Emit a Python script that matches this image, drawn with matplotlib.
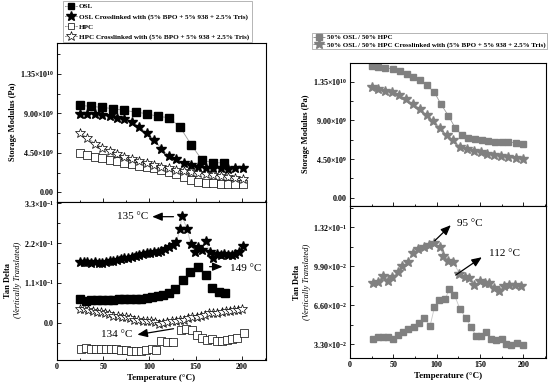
import matplotlib
matplotlib.use('Agg')
import matplotlib.pyplot as plt
from matplotlib.lines import Line2D

plt.rcParams['font.family'] = ['Liberation Serif', 'DejaVu Serif']
plt.rcParams['mathtext.fontset'] = 'custom'
plt.rcParams['mathtext.rm'] = 'Liberation Serif:bold'
plt.rcParams['mathtext.it'] = 'Liberation Serif:bold:italic'
plt.rcParams['mathtext.bf'] = 'Liberation Serif:bold'

# ---------------- data: left storage modulus ----------------
osl_T = [25, 37, 49, 61, 73, 85, 97, 109, 121, 133, 145, 157, 169, 181]
osl_E = [9.90e9, 9.78e9, 9.67e9, 9.52e9, 9.33e9, 9.14e9, 8.95e9, 8.65e9, 8.50e9,
         7.44e9, 5.44e9, 3.66e9, 3.36e9, 3.36e9]
oslx_T = [25, 33, 41, 49, 57, 65, 73, 81, 89, 97, 105, 113, 121, 129, 137, 145,
          153, 161, 169, 177, 185, 193, 201]
oslx_E = [8.95e9, 8.95e9, 8.91e9, 8.79e9, 8.65e9, 8.50e9, 8.35e9, 8.05e9, 7.44e9,
          6.76e9, 6.00e9, 4.94e9, 4.12e9, 3.81e9, 3.29e9, 3.06e9, 2.91e9, 2.79e9,
          2.72e9, 2.72e9, 2.68e9, 2.79e9, 2.79e9]
hpc_T = [25, 33, 41, 49, 57, 65, 73, 81, 89, 97, 105, 113, 121, 129, 137, 145,
         153, 161, 169, 177, 185, 193, 201]
hpc_E = [4.49e9, 4.23e9, 4.04e9, 3.85e9, 3.66e9, 3.51e9, 3.36e9, 3.21e9, 3.02e9,
         2.87e9, 2.72e9, 2.53e9, 2.30e9, 2.04e9, 1.70e9, 1.40e9, 1.21e9, 1.09e9,
         1.02e9, 1.00e9, 0.98e9, 0.97e9, 0.96e9]
hpcx_T = [25, 33, 41, 49, 57, 65, 73, 81, 89, 97, 105, 113, 121, 129, 137, 145,
          153, 161, 169, 177, 185, 193, 201]
hpcx_E = [6.76e9, 6.19e9, 5.55e9, 5.10e9, 4.68e9, 4.34e9, 4.04e9, 3.78e9, 3.55e9,
          3.29e9, 3.06e9, 2.91e9, 2.72e9, 2.53e9, 2.42e9, 2.27e9, 2.15e9, 2.04e9,
          1.93e9, 1.85e9, 1.77e9, 1.66e9, 1.55e9]

# ---------------- data: left tan delta (vertically translated) ----------------
tdx_T = [25, 29, 33, 37, 41, 45, 49, 53, 57, 61, 65, 69, 73, 77, 81, 85, 89, 93, 97,
         101, 105, 109, 113, 117, 121, 125, 129, 133, 135, 141, 144.5, 149, 152,
         156.5, 161, 165, 169, 173, 177, 181, 185, 189, 193, 197, 201]
tdx_v = [0.168, 0.167, 0.167, 0.166, 0.167, 0.166, 0.166, 0.167, 0.170, 0.172,
         0.174, 0.176, 0.178, 0.180, 0.183, 0.185, 0.187, 0.189, 0.192, 0.194,
         0.195, 0.196, 0.198, 0.203, 0.210, 0.214, 0.222, 0.258, 0.294, 0.258,
         0.218, 0.195, 0.209, 0.202, 0.227, 0.195, 0.179, 0.191, 0.188, 0.189,
         0.188, 0.188, 0.189, 0.195, 0.212]
tdo_T = [25, 31, 37, 43, 49, 55, 61, 67, 73, 79, 85, 91, 97, 103, 109, 115, 121,
         128, 136, 144, 152, 161, 168, 175, 182]
tdo_v = [0.067, 0.060, 0.064, 0.063, 0.063, 0.064, 0.064, 0.065, 0.065, 0.065,
         0.066, 0.066, 0.068, 0.070, 0.073, 0.077, 0.083, 0.092, 0.117, 0.140,
         0.154, 0.131, 0.095, 0.085, 0.081]
tdhx_T = [25, 29.5, 34, 38.5, 43, 47.5, 52, 56.5, 61, 65.5, 70, 74.5, 79, 83.5, 88,
          92.5, 97, 101.5, 106, 110.5, 115, 119.5, 124, 128.5, 133, 137.5, 142,
          146.5, 151, 155.5, 160, 164.5, 169, 173.5, 178, 182.5, 187, 191.5, 196,
          200.5]
tdhx_v = [0.037, 0.037, 0.035, 0.033, 0.031, 0.029, 0.026, 0.024, 0.020, 0.019,
          0.017, 0.015, 0.013, 0.009, 0.008, 0.006, 0.006, 0.004, 0.003, -0.004,
          0.000, 0.002, 0.004, 0.006, 0.008, 0.009, 0.013, 0.015, 0.017, 0.020,
          0.022, 0.026, 0.026, 0.028, 0.031, 0.032, 0.033, 0.035, 0.035, 0.037]
tdh_T = [25.5, 31, 36.4, 41.9, 47.3, 52.8, 58.3, 63.7, 69.2, 74.6, 80.1, 85.5, 91,
         96.5, 102.7, 107.4, 112.9, 119.4, 125.6, 134, 140, 145.6, 151.1, 156.5,
         162, 167.4, 172.9, 178.4, 183.8, 189.3, 194.7, 202]
tdh_v = [-0.071, -0.069, -0.072, -0.072, -0.072, -0.071, -0.073, -0.072, -0.075,
         -0.075, -0.077, -0.077, -0.079, -0.075, -0.072, -0.076, -0.050, -0.052,
         -0.052, -0.020, -0.017, -0.019, -0.034, -0.043, -0.048, -0.045, -0.049,
         -0.050, -0.047, -0.045, -0.043, -0.029]

# ---------------- data: right storage modulus ----------------
mix_T = [25, 32.7, 40.4, 49.2, 57.7, 65.4, 73.1, 80.8, 88.5, 97.3, 105, 113.5,
         121.2, 128.8, 136.5, 144.2, 151.9, 159.6, 167.3, 175, 182.7, 191.2, 200]
mix_E = [15.31e9, 15.23e9, 15.12e9, 14.97e9, 14.73e9, 14.42e9, 14.07e9, 13.69e9,
         13.10e9, 12.26e9, 10.86e9, 9.53e9, 8.14e9, 7.29e9, 6.90e9, 6.79e9, 6.67e9,
         6.59e9, 6.51e9, 6.51e9, 6.44e9, 6.40e9, 6.24e9]
mixx_T = [25, 32.7, 40.4, 48.8, 56.5, 64.6, 73.1, 80.8, 88.5, 96.2, 103.8, 111.5,
          119.2, 126.9, 135.4, 143.1, 150.8, 158.5, 166.2, 173.8, 182.3, 190.8, 200]
mixx_E = [12.83e9, 12.64e9, 12.44e9, 12.26e9, 11.94e9, 11.44e9, 10.90e9, 10.31e9,
          9.62e9, 8.92e9, 8.14e9, 7.29e9, 6.67e9, 5.93e9, 5.66e9, 5.43e9, 5.28e9,
          5.05e9, 4.96e9, 4.85e9, 4.69e9, 4.58e9, 4.50e9]

# ---------------- data: right tan delta ----------------
tmx_T = [26.9, 32.7, 37.7, 43.5, 48.8, 55, 60.4, 66.5, 73.1, 78.8, 85.8, 91.5, 97.3,
         103.8, 107.7, 113.5, 119.2, 126.2, 132.7, 137.3, 143.5, 150, 155.8, 160.4,
         166.5, 171.9, 178.1, 183.8, 190.4, 197.3]
tmx_v = [0.0845, 0.0858, 0.0907, 0.0867, 0.0895, 0.0943, 0.0991, 0.1028, 0.1099,
         0.1133, 0.1155, 0.1170, 0.1184, 0.1150, 0.1076, 0.1036, 0.1028, 0.0924,
         0.0901, 0.0887, 0.0830, 0.0867, 0.0850, 0.0845, 0.0802, 0.0782, 0.0822,
         0.0830, 0.0830, 0.0822]
tm_T = [26.2, 32.7, 38.5, 44.2, 50, 55.8, 61.5, 67.3, 73.8, 80, 85.4, 92.3, 97.3,
        103, 109.6, 114.6, 120.4, 126.9, 133.8, 139.6, 145.4, 150.8, 156.9, 162.3,
        168.5, 175, 180, 185.8, 192.3, 199.2]
tm_v = [0.0372, 0.0392, 0.0387, 0.0392, 0.0370, 0.0406, 0.0435, 0.0454, 0.0477,
        0.0511, 0.0548, 0.0483, 0.0641, 0.0703, 0.0712, 0.0794, 0.0746, 0.0624,
        0.0548, 0.0472, 0.0398, 0.0398, 0.0435, 0.0370, 0.0364, 0.0372, 0.0330,
        0.0322, 0.0341, 0.0322]

legend_left = ['OSL', 'OSL Crosslinked with (5% BPO + 5% 938 + 2.5% Tris)',
               'HPC', 'HPC Crosslinked with (5% BPO + 5% 938 + 2.5% Tris)']
legend_right = ['50% OSL / 50% HPC',
                '50% OSL / 50% HPC Crosslinked with (5% BPO + 5% 938 + 2.5% Tris)']

sm_ticks = [0, 4.5e9, 9e9, 1.35e10]
sm_labels = ['0.00', r'$4.50{\times}10^{9}$', r'$9.00{\times}10^{9}$',
             r'$1.35{\times}10^{10}$']
tdl_ticks = [0.0, 0.11, 0.22, 0.33]
tdl_labels = ['0.0', r'$1.1{\times}10^{-1}$', r'$2.2{\times}10^{-1}$',
              r'$3.3{\times}10^{-1}$']
tdr_ticks = [0.033, 0.066, 0.099, 0.132]
tdr_labels = [r'$3.30{\times}10^{-2}$', r'$6.60{\times}10^{-2}$',
              r'$9.90{\times}10^{-2}$', r'$1.32{\times}10^{-1}$']
x_ticks = [0, 50, 100, 150, 200]

GRAY = '#808080'
LINEC = '#9a9a9a'
TICKFS = 5.8

fig = plt.figure(figsize=(5.5, 3.86), dpi=100)

def style(ax, yt, yl, yminor, showx):
    ax.set_xlim(0, 226)
    ax.set_xticks(x_ticks)
    ax.set_xticks([25, 75, 125, 175, 225], minor=True)
    ax.set_yticks(yt)
    ax.set_yticklabels(yl)
    ax.set_yticks(yminor, minor=True)
    ax.tick_params(which='both', direction='in', top=False, right=False,
                   labelsize=TICKFS, pad=2, width=0.6)
    ax.tick_params(which='major', length=3)
    ax.tick_params(which='minor', length=1.8)
    for lab in ax.get_yticklabels() + ax.get_xticklabels():
        lab.set_fontweight('bold')
    if not showx:
        ax.set_xticklabels([])
    for s in ax.spines.values():
        s.set_linewidth(0.8)

# ---- left top
axLT = fig.add_axes([0.1036, 0.4775, 0.38, 0.411])
axLT.plot(osl_T, osl_E, color=LINEC, lw=0.6, marker='s', ms=5.5, mfc='black', mec='black')
axLT.plot(oslx_T, oslx_E, color=LINEC, lw=0.6, marker='*', ms=7.5, mfc='black', mec='black')
axLT.plot(hpc_T, hpc_E, color=LINEC, lw=0.6, marker='s', ms=5.5, mfc='white', mec='black', mew=0.5)
axLT.plot(hpcx_T, hpcx_E, color=LINEC, lw=0.6, marker='*', ms=7.5, mfc='white', mec='black', mew=0.5)
axLT.set_ylim(-1.07e9, 1.7e10)
style(axLT, sm_ticks, sm_labels, [2.25e9, 6.75e9, 1.125e10, 1.575e10], False)

# ---- left bottom
axLB = fig.add_axes([0.1036, 0.0674, 0.38, 0.4101])
axLB.plot(tdx_T, tdx_v, color='#c8c8c8', lw=0.6, marker='*', ms=7.5, mfc='black', mec='black')
axLB.plot(tdo_T, tdo_v, color='#c8c8c8', lw=0.6, ls='none', marker='s', ms=5.5, mfc='black', mec='black')
axLB.plot(tdhx_T, tdhx_v, color='#c8c8c8', lw=0.6, ls='none', marker='*', ms=7.5, mfc='white', mec='black', mew=0.5)
axLB.plot(tdh_T, tdh_v, color='#c8c8c8', lw=0.6, ls='none', marker='s', ms=5.5, mfc='white', mec='black', mew=0.5)
axLB.set_ylim(-0.1026, 0.3344)
style(axLB, tdl_ticks, tdl_labels, [-0.055, 0.055, 0.165, 0.275], True)
axLB.set_xlabel('Temperature (°C)', fontsize=6.5, fontweight='bold', labelpad=2)

arrow = dict(arrowstyle='-|>,head_length=0.6,head_width=0.25', color='black', lw=0.9)
axLB.annotate('', xy=(100, 0.293), xytext=(129, 0.293), arrowprops=arrow)
axLB.text(99, 0.293, '135 °C', fontsize=8, ha='right', va='center')
axLB.annotate('', xy=(182, 0.155), xytext=(162, 0.155), arrowprops=arrow)
axLB.text(187, 0.149, '149 °C', fontsize=8, ha='left', va='center')
axLB.annotate('', xy=(84, -0.034), xytext=(129, -0.015), arrowprops=arrow)
axLB.text(82, -0.033, '134 °C', fontsize=8, ha='right', va='center')

# ---- right top
axRT = fig.add_axes([0.6364, 0.4663, 0.3564, 0.3697])
axRT.plot(mix_T, mix_E, color=LINEC, lw=0.6, marker='s', ms=5, mfc=GRAY, mec=GRAY)
axRT.plot(mixx_T, mixx_E, color=LINEC, lw=0.6, marker='*', ms=7, mfc=GRAY, mec=GRAY)
axRT.set_ylim(-0.965e9, 1.564e10)
style(axRT, sm_ticks, sm_labels, [2.25e9, 6.75e9, 1.125e10], False)

# ---- right bottom
axRB = fig.add_axes([0.6364, 0.0718, 0.3564, 0.3945])
axRB.plot(tmx_T, tmx_v, color='#c8c8c8', lw=0.6, marker='*', ms=7, mfc=GRAY, mec=GRAY)
axRB.plot(tm_T, tm_v, color='#c8c8c8', lw=0.6, marker='s', ms=5, mfc=GRAY, mec=GRAY)
axRB.set_ylim(0.0209, 0.150)
style(axRB, tdr_ticks, tdr_labels, [0.0495, 0.0825, 0.1155, 0.1485], True)
axRB.set_xlabel('Temperature (°C)', fontsize=6.5, fontweight='bold', labelpad=2)
axRB.annotate('', xy=(118.5, 0.1354), xytext=(95.4, 0.1189), arrowprops=arrow)
axRB.text(123, 0.1354, '95 °C', fontsize=8, ha='left', va='center')
axRB.annotate('', xy=(154.6, 0.1079), xytext=(119.2, 0.0901), arrowprops=arrow)
axRB.text(160.7, 0.1099, '112 °C', fontsize=8, ha='left', va='center')

# ---- y labels
def fx(px):
    return px / 550.0
def fy(py):
    return 1 - py / 386.0

fig.text(fx(13), fy(122), 'Storage Modulus (Pa)', rotation=90, fontsize=6,
         fontweight='bold', ha='center', va='center')
fig.text(fx(8), fy(280), 'Tan Delta', rotation=90, fontsize=6,
         fontweight='bold', ha='center', va='center')
fig.text(fx(18), fy(280), '(Vertically Translated)', rotation=90, fontsize=6,
         fontstyle='italic', ha='center', va='center')
fig.text(fx(306), fy(134), 'Storage Modulus (Pa)', rotation=90, fontsize=6,
         fontweight='bold', ha='center', va='center')
fig.text(fx(297), fy(282), 'Tan Delta', rotation=90, fontsize=6,
         fontweight='bold', ha='center', va='center')
fig.text(fx(307), fy(282), '(Vertically Translated)', rotation=90, fontsize=6,
         fontstyle='italic', ha='center', va='center')

# ---- legends
hl = [Line2D([], [], color='black', lw=0.6, ls=':', marker='s', ms=5, mfc='black', mec='black'),
      Line2D([], [], color='black', lw=0.6, ls=':', marker='*', ms=7, mfc='black', mec='black'),
      Line2D([], [], color='black', lw=0.6, ls=':', marker='s', ms=5, mfc='white', mec='black', mew=0.5),
      Line2D([], [], color='black', lw=0.6, ls=':', marker='*', ms=7, mfc='white', mec='black', mew=0.5)]
legL = fig.legend(hl, legend_left, loc='upper left', bbox_to_anchor=(fx(63), fy(1)),
                  prop={'size': 5.1, 'weight': 'bold', 'family': 'Liberation Serif'},
                  frameon=True, fancybox=False, edgecolor='#999999', framealpha=1,
                  borderpad=0.35, labelspacing=0.55, handlelength=1.6, handletextpad=0.3,
                  borderaxespad=0)
legL.get_frame().set_linewidth(0.5)
hr = [Line2D([], [], color=GRAY, lw=0.6, ls='--', marker='s', ms=5, mfc=GRAY, mec=GRAY),
      Line2D([], [], color=GRAY, lw=0.6, ls='--', marker='*', ms=7, mfc=GRAY, mec=GRAY)]
legR = fig.legend(hr, legend_right, loc='upper left', bbox_to_anchor=(fx(312), fy(33)),
                  prop={'size': 5, 'weight': 'bold', 'family': 'Liberation Serif'},
                  frameon=True, fancybox=False, edgecolor='#999999', framealpha=1,
                  borderpad=0.2, labelspacing=0.2, handlelength=1.6, handletextpad=0.3,
                  borderaxespad=0)
legR.get_frame().set_linewidth(0.5)

fig.savefig('out.png', dpi=100)
